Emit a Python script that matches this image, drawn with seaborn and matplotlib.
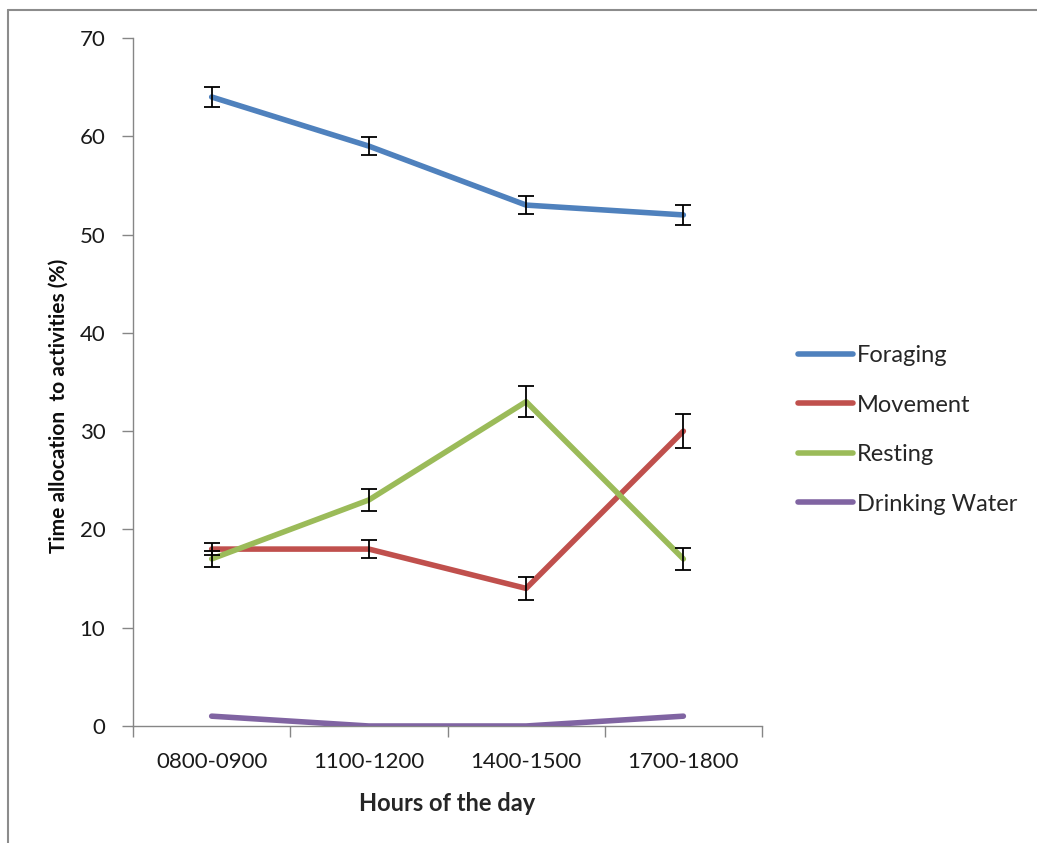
import matplotlib
matplotlib.use("Agg")
import matplotlib.pyplot as plt
import seaborn as sns
import pandas as pd
import numpy as np
from matplotlib.lines import Line2D

# Activity budget by time of day
hours = ["0800-0900", "1100-1200", "1400-1500", "1700-1800"]
activities = ["Foraging", "Movement", "Resting", "Drinking Water"]

foraging = [64, 59, 53, 52]
movement = [18, 18, 14, 30]
resting = [17, 23, 33, 17]
drinking = [1, 0, 0, 1]

foraging_err = [1.0, 0.9, 0.9, 1.0]
movement_err = [0.6, 0.9, 1.2, 1.7]
resting_err = [0.8, 1.1, 1.6, 1.1]

colors = ["#4F81BD", "#C0504D", "#9BBB59", "#8064A2"]

values = [foraging, movement, resting, drinking]
errors = [foraging_err, movement_err, resting_err, None]

df = pd.DataFrame({
    "hour": np.tile(np.arange(len(hours)), len(activities)),
    "value": np.concatenate(values),
    "activity": np.repeat(activities, len(hours)),
})

sns.set_theme(style="white")
plt.rcParams["font.family"] = ["Lato", "DejaVu Sans"]

fig = plt.figure(figsize=(10.37, 8.43), dpi=100)
ax = fig.add_axes([0.1283, 0.1388, 0.6065, 0.8161])

sns.lineplot(data=df, x="hour", y="value", hue="activity", hue_order=activities,
             palette=colors, linewidth=4.0, ax=ax, legend=False, zorder=3,
             solid_capstyle="round")

for vals, err in zip(values, errors):
    if err is None:
        continue
    ax.errorbar(np.arange(len(hours)), vals, yerr=err, fmt="none",
                ecolor="black", elinewidth=1.3, capsize=5.5, capthick=1.3, zorder=4)

ax.set_xlim(-0.5, len(hours) - 0.5)
ax.set_ylim(0, 70)
ax.set_yticks(np.arange(0, 71, 10))
ax.set_xticks(np.arange(-0.5, len(hours), 1.0))
ax.set_xticklabels([])
ax.set_xticks(np.arange(len(hours)), minor=True)
ax.set_xticklabels(hours, minor=True)

ax.tick_params(axis="x", which="major", direction="out", length=8, width=1,
               color="#868686", bottom=True)
ax.tick_params(axis="x", which="minor", length=0, pad=19, labelsize=16,
               labelcolor="#1a1a1a")
ax.tick_params(axis="y", direction="out", length=8, width=1, color="#868686",
               left=True, labelsize=16, labelcolor="#1a1a1a", pad=12)

for side in ["top", "right"]:
    ax.spines[side].set_visible(False)
for side in ["left", "bottom"]:
    ax.spines[side].set_color("#868686")
    ax.spines[side].set_linewidth(1)

ax.set_xlabel("Hours of the day", fontsize=17, fontweight="bold", labelpad=14)
ax.set_ylabel("Time allocation  to activities (%)", fontsize=15,
              fontweight="bold", color="#0d0d0d")
ax.yaxis.set_label_coords(-0.103, 0.465)

handles = [Line2D([0], [0], color=c, linewidth=4.0, solid_capstyle="round")
           for c in colors]
fig.legend(handles, activities, loc="upper left",
           bbox_to_anchor=(0.7695, 0.5907), frameon=False, fontsize=17,
           borderaxespad=0, borderpad=0,
           handlelength=2.33, handletextpad=0.17, labelspacing=1.21)

# Thin frame along the top and left edges
fig.add_artist(Line2D([0.0075, 1.0], [0.988, 0.988], transform=fig.transFigure,
                      color="#8c8c8c", linewidth=1.5))
fig.add_artist(Line2D([0.0075, 0.0075], [0.0, 0.988], transform=fig.transFigure,
                      color="#8c8c8c", linewidth=1.5))

fig.savefig("out.png", dpi=100, facecolor="white")
